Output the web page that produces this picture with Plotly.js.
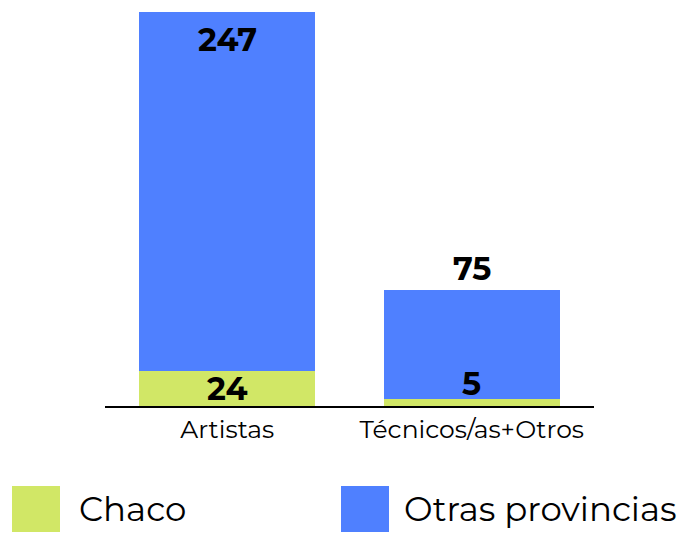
<!DOCTYPE html>
<html>
<head>
<meta charset="utf-8">
<script src="https://cdn.plot.ly/plotly-3.0.1.min.js"></script>
<style>html,body{margin:0;padding:0;background:#fff;}#chart{width:679px;height:533px;}</style>
</head>
<body>
<div id="chart"></div>
<script>
const categories = ["Artistas", "Técnicos/as+Otros"];
const chaco = [24, 5];
const otras = [247, 75];
const seriesNames = ["Chaco", "Otras provincias"];
const colors = ["#D1E766", "#4F80FF"];

const W = 679, H = 533;
const M = {l: 105, r: 85, t: 12, b: 127};
const pw = W - M.l - M.r, ph = H - M.t - M.b;
const px2x = x => (x - M.l) / pw;
const px2y = y => (H - M.b - y) / ph;

const totals = chaco.map((v, i) => v + otras[i]);
const ymax = Math.max(...totals);

const traces = [
  {type: "bar", x: categories, y: chaco, name: seriesNames[0], marker: {color: colors[0]}, hoverinfo: "skip"},
  {type: "bar", x: categories, y: otras, name: seriesNames[1], marker: {color: colors[1]}, hoverinfo: "skip"}
];

const numFont = {family: "Montserrat, 'DejaVu Sans', sans-serif", size: 32, color: "#000", weight: 700};
const annotations = [];
categories.forEach((c, i) => {
  const fitsAbove = totals[i] < ymax * 0.9;
  annotations.push({
    x: c, y: totals[i], xref: "x", yref: "y",
    text: "<b>" + otras[i] + "</b>", showarrow: false,
    yanchor: fitsAbove ? "bottom" : "top", yshift: fitsAbove ? 0 : -6,
    font: numFont
  });
  const big = chaco[i] > 15;
  annotations.push({
    x: c, y: big ? chaco[i] / 2 : chaco[i], xref: "x", yref: "y",
    text: "<b>" + chaco[i] + "</b>", showarrow: false,
    yanchor: big ? "middle" : "bottom", yshift: big ? 0 : -6,
    font: numFont
  });
});

const shapes = [];
const legendX = [12, 341];
const legendTextOff = [65, 61];
seriesNames.forEach((n, i) => {
  shapes.push({type: "rect", xref: "paper", yref: "paper",
    x0: px2x(legendX[i]), x1: px2x(legendX[i] + 48),
    y0: px2y(532), y1: px2y(486),
    fillcolor: colors[i], line: {width: 0}});
  annotations.push({xref: "paper", yref: "paper", x: px2x(legendX[i] + legendTextOff[i]), y: px2y(509),
    xanchor: "left", yanchor: "middle", text: n, showarrow: false,
    font: {family: "Montserrat, 'Open Sans', sans-serif", size: 34, color: "#000"}});
});

const layout = {
  width: W, height: H,
  margin: M,
  barmode: "stack",
  bargap: 0.28,
  showlegend: false,
  paper_bgcolor: "#fff", plot_bgcolor: "#fff",
  xaxis: {showline: true, linecolor: "#000", linewidth: 2, ticks: "", showgrid: false,
    ticklabelstandoff: 0,
    tickfont: {family: "Montserrat, 'Open Sans', sans-serif", size: 25, color: "#000"}},
  yaxis: {range: [0, ymax], visible: false, showgrid: false, zeroline: false},
  annotations: annotations,
  shapes: shapes
};

Plotly.newPlot("chart", traces, layout, {displayModeBar: false, staticPlot: true});
</script>
</body>
</html>
